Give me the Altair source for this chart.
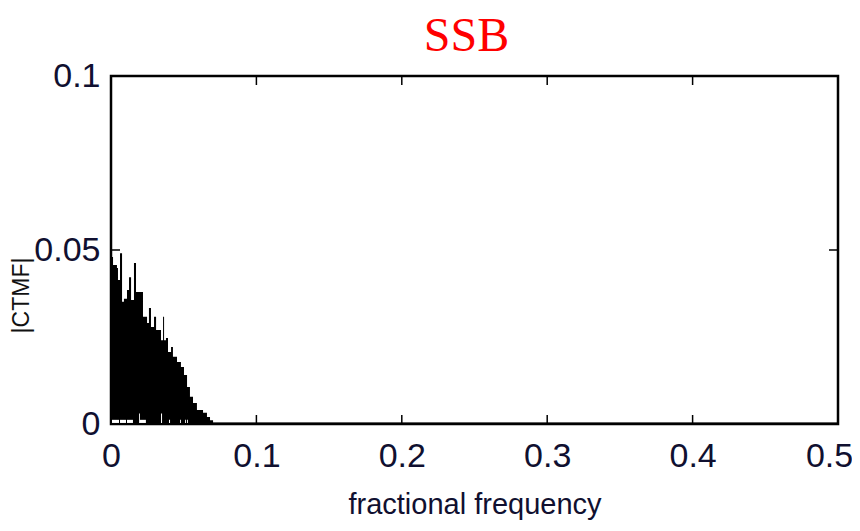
import altair as alt
import pandas as pd

# spectrum envelope (step-after): fractional frequency and |CTMF|
freq = [0, 0.0014, 0.0041, 0.0048, 0.0062, 0.0076, 0.0089, 0.011, 0.0124, 0.0138,
        0.0158, 0.0172, 0.022, 0.0248, 0.0261, 0.0275, 0.0296, 0.031, 0.0344, 0.0358,
        0.0365, 0.0378, 0.0392, 0.0413, 0.0426, 0.0454, 0.0481, 0.0502, 0.0523, 0.0543,
        0.0564, 0.0591, 0.0633, 0.066, 0.0681, 0.0702, 0.5]
ctmf = [0.048, 0.0457, 0.0448, 0.0414, 0.0491, 0.0351, 0.036, 0.0385, 0.0422, 0.0356,
        0.0463, 0.0379, 0.0308, 0.029, 0.0333, 0.0279, 0.0308, 0.027, 0.0241, 0.0308,
        0.0241, 0.0247, 0.0207, 0.0221, 0.0193, 0.0178, 0.0164, 0.0141, 0.0106, 0.0078,
        0.006, 0.004, 0.0032, 0.002, 0.0011, 0.0004, 0.0004]

# small near-zero gaps visible at the foot of the spectrum
gap_start = [0.0007, 0.0062, 0.011, 0.0193, 0.0199, 0.0344, 0.0399, 0.0475, 0.0509, 0.0523]
gap_end = [0.0055, 0.0103, 0.0151, 0.0199, 0.024, 0.0351, 0.0406, 0.0481, 0.0515, 0.0529]
gap_top = [0.0012, 0.0012, 0.0012, 0.003, 0.0012, 0.003, 0.0012, 0.0012, 0.0012, 0.0012]
gap_low = 0.0003

x_ticks = [0, 0.1, 0.2, 0.3, 0.4, 0.5]
y_ticks = [0, 0.05, 0.1]

W, H = 727, 348
TL = 9

spec = pd.DataFrame({"f": freq, "v": ctmf})
gaps = pd.DataFrame({"a": gap_start, "b": gap_end, "top": gap_top, "low": gap_low})
xt = pd.DataFrame({"t": x_ticks})
yt = pd.DataFrame({"t": y_ticks})

xs = alt.Scale(domain=[0, 0.5], nice=False, zero=False)
ys = alt.Scale(domain=[0, 0.1], nice=False, zero=False)

LABEL_FONT = "Liberation Sans"
LABEL_COLOR = "#101030"

area = alt.Chart(spec).mark_area(interpolate="step-after", color="black", opacity=1).encode(
    x=alt.X("f:Q", scale=xs, axis=alt.Axis(
        values=x_ticks, labelExpr="'' + datum.value", title="fractional frequency",
        ticks=False, domain=False, grid=False, labelPadding=15, labelFlush=False,
        labelOffset={"condition": {"test": "datum.value >= 0.5", "value": -9}, "value": 0},
        labelFont=LABEL_FONT, labelFontSize=34, labelColor=LABEL_COLOR,
        titleFont=LABEL_FONT, titleFontSize=29, titleFontWeight="normal",
        titleColor=LABEL_COLOR, titleBaseline="top", titleY=66)),
    y=alt.Y("v:Q", scale=ys, axis=alt.Axis(
        values=y_ticks, labelExpr="'' + datum.value", title="|CTMF|",
        ticks=False, domain=False, grid=False, labelPadding=11, labelFlush=False,
        labelFont=LABEL_FONT, labelFontSize=34, labelColor=LABEL_COLOR,
        titleFont="Liberation Sans", titleFontSize=23, titleFontWeight="normal",
        titleColor="#111111", titleAngle=270, titleX=-90, titleY=219,
        titleAlign="center", titleBaseline="middle")),
)

gap_marks = alt.Chart(gaps).mark_rect(color="white").encode(
    x=alt.X("a:Q", scale=xs), x2="b:Q",
    y=alt.Y("low:Q", scale=ys), y2="top:Q")

top_ticks = alt.Chart(xt).mark_rule(color="black", strokeWidth=1.5).encode(
    x=alt.X("t:Q", scale=xs), y=alt.value(0), y2=alt.value(TL))
bot_ticks = alt.Chart(xt).mark_rule(color="black", strokeWidth=1.5).encode(
    x=alt.X("t:Q", scale=xs), y=alt.value(H), y2=alt.value(H - TL))
left_ticks = alt.Chart(yt).mark_rule(color="black", strokeWidth=1.5).encode(
    y=alt.Y("t:Q", scale=ys), x=alt.value(0), x2=alt.value(TL))
right_ticks = alt.Chart(yt).mark_rule(color="black", strokeWidth=1.5).encode(
    y=alt.Y("t:Q", scale=ys), x=alt.value(W), x2=alt.value(W - TL))

chart = alt.layer(area, gap_marks, top_ticks, bot_ticks, left_ticks, right_ticks).properties(
    width=W, height=H,
    background="white",
    title=alt.TitleParams("SSB", font="Liberation Serif", fontSize=48, color="#ff0000",
                          fontWeight="normal", anchor="middle", offset=-2, dx=-8),
    autosize=alt.AutoSizeParams(type="none"),
    padding={"left": 103, "top": 68, "right": 14, "bottom": 99},
).configure_view(stroke="black", strokeWidth=2.5)

chart.save("out.html", embed_options={"renderer": "svg", "actions": False})
